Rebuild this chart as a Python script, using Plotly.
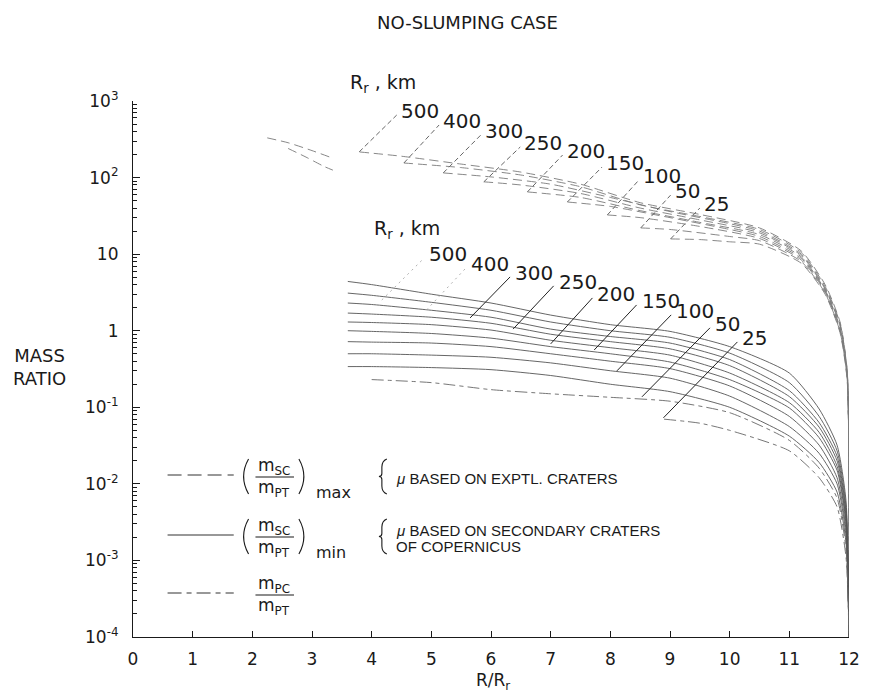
import math
import plotly.graph_objects as go

# ---------------- data ----------------
RR_LABELS = ["500", "400", "300", "250", "200", "150", "100", "50", "25"]

# upper family: (m_sc/m_pt)max  -- long dashed
MAX_X_500 = [3.8, 4.5, 5.5, 6.5, 7.5, 8.5, 9.5, 10.5, 11.2, 11.6, 11.85, 11.97, 12.0]
MAX_Y_500 = [216, 190, 150, 118, 82, 47, 33, 22, 11, 4.0, 1.3, 0.3, 1e-4]
MAX_X_400 = [4.54, 5.5, 6.5, 7.5, 8.5, 9.5, 10.5, 11.2, 11.6, 11.85, 11.97, 12.0]
MAX_Y_400 = [155, 135, 108, 76, 44, 31, 21, 10.5, 3.8, 1.25, 0.29, 1e-4]
MAX_X_300 = [5.2, 6.0, 7.0, 8.0, 9.0, 10.0, 10.5, 11.2, 11.6, 11.85, 11.97, 12.0]
MAX_Y_300 = [115, 102, 82, 55, 36, 25, 20, 10, 3.6, 1.2, 0.28, 1e-4]
MAX_X_250 = [5.88, 6.5, 7.5, 8.5, 9.5, 10.5, 11.2, 11.6, 11.85, 11.97, 12.0]
MAX_Y_250 = [88, 80, 62, 40, 28, 19, 9.6, 3.5, 1.15, 0.27, 1e-4]
MAX_X_200 = [6.61, 7.5, 8.5, 9.5, 10.5, 11.2, 11.6, 11.85, 11.97, 12.0]
MAX_Y_200 = [65, 55, 37, 26, 18, 9.2, 3.4, 1.1, 0.26, 1e-4]
MAX_X_150 = [7.28, 8.0, 9.0, 10.0, 10.5, 11.2, 11.6, 11.85, 11.97, 12.0]
MAX_Y_150 = [48, 42, 30, 21, 17, 8.8, 3.3, 1.05, 0.25, 1e-4]
MAX_X_100 = [7.95, 8.5, 9.5, 10.5, 11.2, 11.6, 11.85, 11.97, 12.0]
MAX_Y_100 = [32.5, 30, 23, 16, 8.4, 3.2, 1.0, 0.24, 1e-4]
MAX_X_50 = [8.51, 9.0, 10.0, 10.5, 11.2, 11.6, 11.85, 11.97, 12.0]
MAX_Y_50 = [22, 21, 17, 15, 8.0, 3.1, 0.97, 0.23, 1e-4]
MAX_X_25 = [9.01, 9.5, 10.0, 10.5, 11.2, 11.6, 11.85, 11.97, 12.0]
MAX_Y_25 = [15.8, 15.5, 14.5, 13.5, 7.6, 3.0, 0.94, 0.22, 1e-4]
# short steep dashes at far left of the upper family
MAX_X_LEFT_A = [2.25, 2.6, 3.0, 3.3]
MAX_Y_LEFT_A = [330, 285, 225, 185]
MAX_X_LEFT_B = [2.6, 2.9, 3.2, 3.35]
MAX_Y_LEFT_B = [240, 185, 140, 125]

# middle family: (m_sc/m_pt)min -- solid
MIN_X = [3.6, 4.0, 5.0, 6.0, 7.0, 8.0, 9.0, 10.0, 11.0, 11.5, 11.8, 11.95, 12.0]
MIN_Y_500 = [4.4, 4.0, 3.0, 2.3, 1.6, 1.2, 0.98, 0.62, 0.28, 0.095, 0.032, 0.006, 1e-4]
MIN_Y_400 = [3.1, 2.9, 2.35, 1.85, 1.3, 1.0, 0.82, 0.51, 0.21, 0.076, 0.027, 0.005, 1e-4]
MIN_Y_300 = [2.3, 2.2, 1.85, 1.5, 1.05, 0.84, 0.69, 0.42, 0.165, 0.063, 0.023, 0.0043, 1e-4]
MIN_Y_250 = [1.7, 1.65, 1.5, 1.25, 0.9, 0.72, 0.58, 0.35, 0.138, 0.055, 0.02, 0.0038, 1e-4]
MIN_Y_200 = [1.3, 1.28, 1.2, 1.02, 0.75, 0.6, 0.48, 0.28, 0.115, 0.047, 0.017, 0.0033, 1e-4]
MIN_Y_150 = [1.0, 0.98, 0.92, 0.8, 0.62, 0.5, 0.39, 0.23, 0.098, 0.04, 0.015, 0.003, 1e-4]
MIN_Y_100 = [0.72, 0.71, 0.69, 0.62, 0.5, 0.4, 0.32, 0.19, 0.076, 0.032, 0.012, 0.0025, 1e-4]
MIN_Y_50 = [0.5, 0.5, 0.48, 0.45, 0.38, 0.3, 0.24, 0.14, 0.056, 0.025, 0.01, 0.0021, 1e-4]
MIN_Y_25 = [0.34, 0.34, 0.33, 0.31, 0.26, 0.2, 0.16, 0.1, 0.042, 0.019, 0.0078, 0.0017, 1e-4]

# lower family: m_pc/m_pt -- dash-dot
MPC_X_A = [4.0, 5.0, 6.0, 7.0, 8.0, 9.0, 10.0, 11.0, 11.5, 11.8, 11.95, 12.0]
MPC_Y_A = [0.23, 0.21, 0.17, 0.15, 0.135, 0.12, 0.085, 0.037, 0.016, 0.0065, 0.0014, 1e-4]
MPC_X_B = [8.9, 9.5, 10.0, 11.0, 11.5, 11.8, 11.95, 12.0]
MPC_Y_B = [0.07, 0.062, 0.05, 0.027, 0.012, 0.005, 0.0011, 1e-4]

# diagonal leader lines to the R_r labels (start point -> end point)
TOP_LEAD_X0 = [3.79, 4.54, 5.20, 5.88, 6.61, 7.28, 7.95, 8.51, 9.01]
TOP_LEAD_Y0 = [216, 155, 115, 88, 65, 48, 32.5, 22, 15.8]
TOP_LEAD_X1 = [4.42, 5.13, 5.83, 6.49, 7.20, 7.86, 8.48, 9.01, 9.50]
TOP_LEAD_Y1 = [656, 486, 360, 251, 197, 137, 93, 59, 40]

MID_LEAD_X0 = [4.17, 4.92, 5.65, 6.37, 7.00, 7.73, 8.11, 8.53, 8.89]
MID_LEAD_Y0 = [2.52, 1.87, 1.47, 1.05, 0.673, 0.561, 0.299, 0.137, 0.0728]
MID_LEAD_X1 = [4.88, 5.58, 6.32, 7.05, 7.70, 8.44, 9.02, 9.67, 10.13]
MID_LEAD_Y1 = [8.9, 6.6, 5.04, 3.85, 2.68, 2.17, 1.61, 1.09, 0.714]

X_TICKS = list(range(0, 13))
Y_TICKS = [1e-4, 1e-3, 1e-2, 1e-1, 1, 10, 1e2, 1e3]
Y_TICK_TEXT = ["10<sup>-4</sup>", "10<sup>-3</sup>", "10<sup>-2</sup>", "10<sup>-1</sup>",
               "1", "10", "10<sup>2</sup>", "10<sup>3</sup>"]

# ---------------- figure ----------------
W, H = 872, 692
ML, MR, MT, MB = 133, 14, 101, 55
PW, PH = W - ML - MR, H - MT - MB


def pxx(v):
    return (v - ML) / PW


def pxy(v):
    return (H - MB - v) / PH


FONT = "DejaVu Sans"
INK = "#1a1a1a"

fig = go.Figure()

MAX_CURVES = [(MAX_X_500, MAX_Y_500), (MAX_X_400, MAX_Y_400), (MAX_X_300, MAX_Y_300),
              (MAX_X_250, MAX_Y_250), (MAX_X_200, MAX_Y_200), (MAX_X_150, MAX_Y_150),
              (MAX_X_100, MAX_Y_100), (MAX_X_50, MAX_Y_50), (MAX_X_25, MAX_Y_25),
              (MAX_X_LEFT_A, MAX_Y_LEFT_A), (MAX_X_LEFT_B, MAX_Y_LEFT_B)]
for cx, cy in MAX_CURVES:
    fig.add_trace(go.Scatter(x=cx, y=cy, mode="lines", hoverinfo="skip", showlegend=False,
                             line=dict(color="#7a7a7a", width=0.9, dash="9px,5px", shape="spline",
                                       smoothing=0.6)))

MIN_CURVES = [MIN_Y_500, MIN_Y_400, MIN_Y_300, MIN_Y_250, MIN_Y_200,
              MIN_Y_150, MIN_Y_100, MIN_Y_50, MIN_Y_25]
for cy in MIN_CURVES:
    fig.add_trace(go.Scatter(x=MIN_X, y=cy, mode="lines", hoverinfo="skip", showlegend=False,
                             line=dict(color="#555555", width=0.9, shape="spline", smoothing=0.6)))

for cx, cy in [(MPC_X_A, MPC_Y_A), (MPC_X_B, MPC_Y_B)]:
    fig.add_trace(go.Scatter(x=cx, y=cy, mode="lines", hoverinfo="skip", showlegend=False,
                             line=dict(color="#666666", width=0.9, dash="12px,4px,4px,4px",
                                       shape="spline", smoothing=0.6)))

# leader lines
lx, ly = [], []
for a, b, c, d in zip(TOP_LEAD_X0, TOP_LEAD_Y0, TOP_LEAD_X1, TOP_LEAD_Y1):
    lx += [a, c, None]
    ly += [b, d, None]
fig.add_trace(go.Scatter(x=lx, y=ly, mode="lines", hoverinfo="skip", showlegend=False,
                         line=dict(color="#666666", width=1, dash="5px,3px")))
# the two largest-basin leaders of the middle family are barely visible
fx, fy, mx, my = [], [], [], []
for i, (a, b, c, d) in enumerate(zip(MID_LEAD_X0, MID_LEAD_Y0, MID_LEAD_X1, MID_LEAD_Y1)):
    if i < 2:
        fx += [a, c, None]
        fy += [b, d, None]
    else:
        mx += [a, c, None]
        my += [b, d, None]
fig.add_trace(go.Scatter(x=fx, y=fy, mode="lines", hoverinfo="skip", showlegend=False,
                         line=dict(color="#b0b0b0", width=1, dash="2px,4px")))
fig.add_trace(go.Scatter(x=mx, y=my, mode="lines", hoverinfo="skip", showlegend=False,
                         line=dict(color="#222222", width=1)))

ann = []
for lab, xe, ye in zip(RR_LABELS, TOP_LEAD_X1, TOP_LEAD_Y1):
    ann.append(dict(x=xe, y=math.log10(ye), xref="x", yref="y", text=lab, showarrow=False,
                    xanchor="left", yanchor="middle", xshift=2, yshift=4,
                    font=dict(family=FONT, size=20, color=INK)))
for lab, xe, ye in zip(RR_LABELS, MID_LEAD_X1, MID_LEAD_Y1):
    ann.append(dict(x=xe, y=math.log10(ye), xref="x", yref="y", text=lab, showarrow=False,
                    xanchor="left", yanchor="middle", xshift=3, yshift=4,
                    font=dict(family=FONT, size=20, color=INK)))


def note(xp, yp, text, size=17, xanchor="center", family=FONT, align="center"):
    ann.append(dict(x=pxx(xp), y=pxy(yp), xref="paper", yref="paper", text=text,
                    showarrow=False, xanchor=xanchor, yanchor="middle", align=align,
                    font=dict(family=family, size=size, color=INK)))


# R_r, km headings
note(386, 83, "R<sub>r</sub> , km", size=19)
note(410, 229, "R<sub>r</sub> , km", size=19)

# title, axis titles
note(472, 22, "NO-SLUMPING CASE", size=18)
note(38, 367, "MASS<br>RATIO", size=18)
note(498, 681, "R/R<sub>r</sub>", size=17)

# ---- hand-drawn legend inside the plot ----
shapes = []
LEG_Y = [475, 535, 593]
LEG_DASH = ["14px,6px", "solid", "14px,5px,5px,5px"]
for yy, dd in zip(LEG_Y, LEG_DASH):
    shapes.append(dict(type="line", xref="paper", yref="paper", x0=pxx(168), x1=pxx(235),
                       y0=pxy(yy), y1=pxy(yy), line=dict(color="#333333", width=1.2, dash=dd)))

LEG_NUM = ["m<sub>SC</sub>", "m<sub>SC</sub>", "m<sub>PC</sub>"]
for yy, num in zip(LEG_Y, LEG_NUM):
    shapes.append(dict(type="line", xref="paper", yref="paper", x0=pxx(257), x1=pxx(296),
                       y0=pxy(yy + 2), y1=pxy(yy + 2), line=dict(color=INK, width=1.2)))
    note(276, yy - 9, num, size=17)
    note(276, yy + 13, "m<sub>PT</sub>", size=17)

for yy, sub in zip(LEG_Y[:2], ["max", "min"]):
    note(316, yy + 17, sub, size=16, xanchor="left")
    # parentheses
    t, b = yy - 16, yy + 19
    m = (t + b) / 2
    shapes.append(dict(type="path", xref="paper", yref="paper",
                       path=f"M {pxx(250)},{pxy(t)} Q {pxx(240)},{pxy(m)} {pxx(250)},{pxy(b)}",
                       line=dict(color=INK, width=1.1)))
    shapes.append(dict(type="path", xref="paper", yref="paper",
                       path=f"M {pxx(301)},{pxy(t)} Q {pxx(311)},{pxy(m)} {pxx(301)},{pxy(b)}",
                       line=dict(color=INK, width=1.1)))
    # brace
    shapes.append(dict(type="path", xref="paper", yref="paper",
                       path=(f"M {pxx(390)},{pxy(t)} Q {pxx(385)},{pxy(t + 2)} {pxx(385)},{pxy(t + 8)} "
                             f"L {pxx(385)},{pxy(m - 3)} Q {pxx(385)},{pxy(m)} {pxx(382)},{pxy(m)} "
                             f"Q {pxx(385)},{pxy(m)} {pxx(385)},{pxy(m + 3)} "
                             f"L {pxx(385)},{pxy(b - 8)} Q {pxx(385)},{pxy(b - 2)} {pxx(390)},{pxy(b)}"),
                       line=dict(color=INK, width=1.1)))

note(397, 478, "<i>μ</i> BASED ON EXPTL. CRATERS", size=15, xanchor="left", family="Liberation Sans")
note(397, 530, "<i>μ</i> BASED ON SECONDARY CRATERS", size=15, xanchor="left", family="Liberation Sans")
note(397, 546, "OF COPERNICUS", size=15, xanchor="left", family="Liberation Sans")

MINOR_Y = [m * 10.0 ** k for k in range(-4, 3) for m in range(2, 10)]

fig.update_layout(
    width=W, height=H, margin=dict(l=ML, r=MR, t=MT, b=MB),
    paper_bgcolor="white", plot_bgcolor="white",
    showlegend=False, annotations=ann, shapes=shapes,
    xaxis=dict(range=[0, 12], tickmode="array", tickvals=X_TICKS, ticktext=[str(v) for v in X_TICKS],
               ticks="inside", ticklen=6, tickcolor=INK, showline=True, linecolor=INK, linewidth=1.2,
               showgrid=False, zeroline=False, ticklabelstandoff=6,
               tickfont=dict(family=FONT, size=17, color=INK)),
    yaxis=dict(type="log", range=[-4, 3], tickmode="array", tickvals=Y_TICKS, ticktext=Y_TICK_TEXT,
               ticks="inside", ticklen=7, tickcolor=INK, showline=True, linecolor=INK, linewidth=1.2,
               showgrid=False, zeroline=False, ticklabelstandoff=10,
               tickfont=dict(family=FONT, size=17, color=INK),
               minor=dict(tickvals=MINOR_Y, ticks="inside", ticklen=4, tickcolor=INK, showgrid=False)),
)

fig.write_html("out.html")
